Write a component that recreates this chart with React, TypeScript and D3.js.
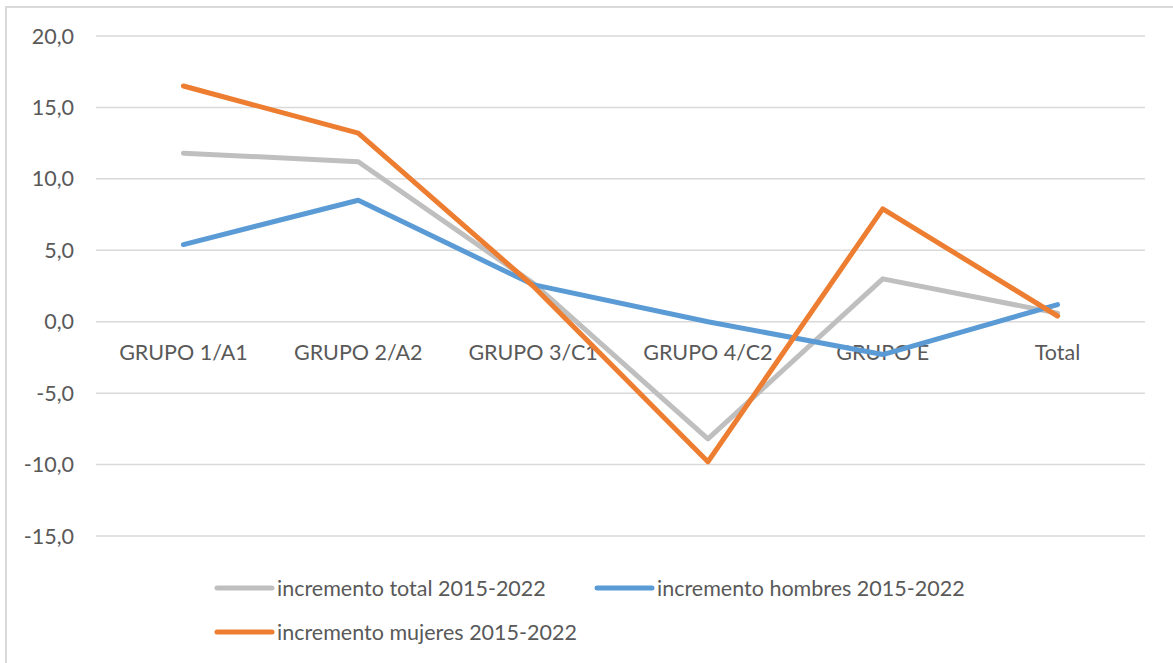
import * as d3 from 'd3'
import React from 'react'

const categories = ['GRUPO 1/A1', 'GRUPO 2/A2', 'GRUPO 3/C1', 'GRUPO 4/C2', 'GRUPO E', 'Total']
const totalValues = [11.8, 11.2, 2.7, -8.2, 3.0, 0.6]
const hombresValues = [5.4, 8.5, 2.6, 0.0, -2.3, 1.2]
const mujeresValues = [16.5, 13.2, 2.5, -9.8, 7.9, 0.4]
const yTicks = [20, 15, 10, 5, 0, -5, -10, -15]
const seriesNames = ['incremento total 2015-2022', 'incremento hombres 2015-2022', 'incremento mujeres 2015-2022']
const seriesColors = ['#BFBFBF', '#5B9BD5', '#ED7D31']

const W = 1173
const H = 663
const font = 'Lato, "Open Sans", sans-serif'
const fs = 21.5

export default function App() {
    React.useEffect(() => {
        document.body.style.margin = '0'
    }, [])

    const x = d3.scaleBand().domain(categories).range([96, 1145])
    const y = d3.scaleLinear().domain([-15, 20]).range([536, 36])
    const series = [totalValues, hombresValues, mujeresValues]

    const line = d3.line<number>()
        .x((d, i) => (x(categories[i]) as number) + x.bandwidth() / 2)
        .y(d => y(d))

    // legend layout
    const legend = [
        { x: 217, y: 588 },
        { x: 597, y: 588 },
        { x: 217, y: 632 },
    ]

    return (
        <svg width={W} height={H} style={{ display: 'block', background: '#fff' }}>
            <rect x={6} y={7} width={W + 20} height={H + 20} fill="#fff" stroke="#d9d9d9" strokeWidth={2} />
            {yTicks.map(t => (
                <g key={t}>
                    <line x1={96} x2={1145} y1={y(t)} y2={y(t)} stroke="#d9d9d9" strokeWidth={1.5} />
                    <text x={74} y={y(t)} dy="0.35em" textAnchor="end" fontFamily={font} fontSize={fs} fill="#595959">
                        {d3.format('.1f')(t).replace('.', ',').replace('−', '-')}
                    </text>
                </g>
            ))}
            {categories.map(c => (
                <text key={c} x={(x(c) as number) + x.bandwidth() / 2} y={y(0) + 31} dy="0.35em" textAnchor="middle"
                    fontFamily={font} fontSize={fs} fill="#595959">{c}</text>
            ))}
            {series.map((s, i) => (
                <path key={i} d={line(s) as string} fill="none" stroke={seriesColors[i]} strokeWidth={5}
                    strokeLinecap="round" strokeLinejoin="round" />
            ))}
            {seriesNames.map((n, i) => (
                <g key={n}>
                    <line x1={legend[i].x} x2={legend[i].x + 55} y1={legend[i].y} y2={legend[i].y}
                        stroke={seriesColors[i]} strokeWidth={5} strokeLinecap="round" />
                    <text x={legend[i].x + 60} y={legend[i].y} dy="0.35em" fontFamily={font} fontSize={fs} fill="#595959">{n}</text>
                </g>
            ))}
        </svg>
    )
}
